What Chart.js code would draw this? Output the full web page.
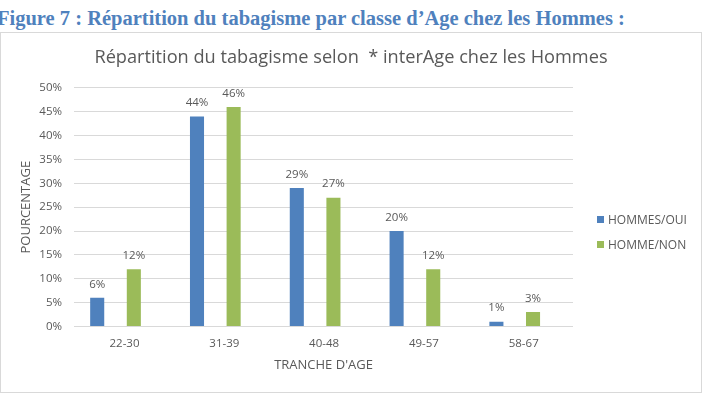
<!DOCTYPE html>
<html>
<head>
<meta charset="utf-8">
<script src="https://cdn.jsdelivr.net/npm/chart.js@4.4.0/dist/chart.umd.min.js"></script>
<style>
  html, body { margin: 0; padding: 0; background: #fff; }
  body { width: 703px; height: 415px; position: relative; overflow: hidden; }
  #caption { position: absolute; left: -3px; top: 7px; line-height: 22px; font-family: "Liberation Serif", serif; font-weight: bold; font-size: 20.5px; color: #4f81bd; white-space: nowrap; }
  #box { position: absolute; left: 0; top: 32px; width: 702px; height: 361px; border: 1px solid #d9d9d9; box-sizing: border-box; }
  #legend { position: absolute; left: 597px; top: 206.5px; font-family: "Open Sans", sans-serif; font-size: 12px; color: #595959; }
  .item { display: flex; align-items: center; height: 25px; }
  .sw { width: 7px; height: 7px; margin-right: 4px; }
</style>
</head>
<body>
<div id="caption">Figure 7 : Répartition du tabagisme par classe d’Age chez les Hommes :</div>
<div id="box"><canvas id="myChart"></canvas></div>
<div id="legend"></div>
<script>
const categories = ["22-30", "31-39", "40-48", "49-57", "58-67"];
const hommesOui = [6, 44, 29, 20, 1];
const hommeNon = [12, 46, 27, 12, 3];
const seriesNames = ["HOMMES/OUI", "HOMME/NON"];
const seriesColors = ["#4f81bd", "#9bbb59"];

const textColor = "#595959";
const font = "Open Sans";

// legend (html)
const legend = document.getElementById("legend");
seriesNames.forEach((name, i) => {
  const item = document.createElement("div");
  item.classList.add("item");
  const sw = document.createElement("div");
  sw.classList.add("sw");
  sw.style.background = seriesColors[i];
  const txt = document.createElement("span");
  txt.textContent = name;
  item.append(sw, txt);
  legend.append(item);
});

// percentages above bars
const valueLabels = {
  id: "valueLabels",
  afterDatasetsDraw(chart) {
    const ctx = chart.ctx;
    ctx.save();
    ctx.font = `11.5px "${font}"`;
    ctx.fillStyle = textColor;
    ctx.textAlign = "center";
    ctx.textBaseline = "middle";
    chart.data.datasets.forEach((ds, i) => {
      chart.getDatasetMeta(i).data.forEach((bar, j) => {
        ctx.fillText(ds.data[j].y + "%", bar.x, bar.y - 13.5);
      });
    });
    ctx.restore();
  },
};

// x is numeric (category index) so the bar groups can sit like in the original
const toPoints = (values) => values.map((v, i) => ({ x: i, y: v }));

const myChart = new Chart("myChart", {
  type: "bar",
  data: {
    datasets: [
      {
        label: seriesNames[0],
        data: toPoints(hommesOui),
        backgroundColor: seriesColors[0],
        categoryPercentage: 0.734,
        barPercentage: 0.384,
      },
      {
        label: seriesNames[1],
        data: toPoints(hommeNon),
        backgroundColor: seriesColors[1],
        categoryPercentage: 0.734,
        barPercentage: 0.384,
      },
    ],
  },
  options: {
    responsive: true,
    maintainAspectRatio: false,
    animation: false,
    layout: { padding: 0 },
    plugins: {
      legend: { display: false },
      tooltip: { enabled: false },
      title: {
        display: true,
        text: "Répartition du tabagisme selon  * interAge chez les Hommes",
        color: textColor,
        font: { family: font, size: 18.2, weight: "normal" },
        padding: { top: 13.6, bottom: 19.5 },
      },
    },
    scales: {
      x: {
        type: "linear",
        min: -0.416,
        max: 4.584,
        offset: false,
        grid: { display: false, drawTicks: false },
        border: { display: false },
        afterBuildTicks(scale) {
          scale.ticks = categories.map((c, i) => ({ value: i }));
        },
        ticks: {
          color: textColor,
          font: { family: font, size: 11.5 },
          padding: 10,
          labelOffset: 9,
          maxRotation: 0,
          autoSkip: false,
          callback: (v) => categories[v],
        },
        title: {
          display: true,
          text: "TRANCHE D'AGE",
          color: textColor,
          font: { family: font, size: 13 },
          padding: { top: 0, bottom: 18.8 },
        },
        afterFit(scale) {
          scale.height = 65.6;
        },
      },
      y: {
        min: 0,
        max: 50,
        grid: { color: "#d9d9d9", drawTicks: false },
        border: { display: false },
        ticks: {
          stepSize: 5,
          color: textColor,
          font: { family: font, size: 11.5 },
          padding: 12,
          callback: (v) => v + "%",
        },
        title: {
          display: true,
          text: "POURCENTAGE",
          color: textColor,
          font: { family: font, size: 13 },
          padding: { top: 17.7, bottom: 0 },
        },
        afterFit(scale) {
          scale.width = 73;
        },
      },
      // empty space kept for the legend on the right
      yRight: {
        type: "linear",
        position: "right",
        display: true,
        grid: { display: false, drawTicks: false },
        border: { display: false },
        ticks: { display: false },
        afterFit(scale) {
          scale.width = 128;
        },
      },
    },
  },
  plugins: [valueLabels],
});
</script>
</body>
</html>
